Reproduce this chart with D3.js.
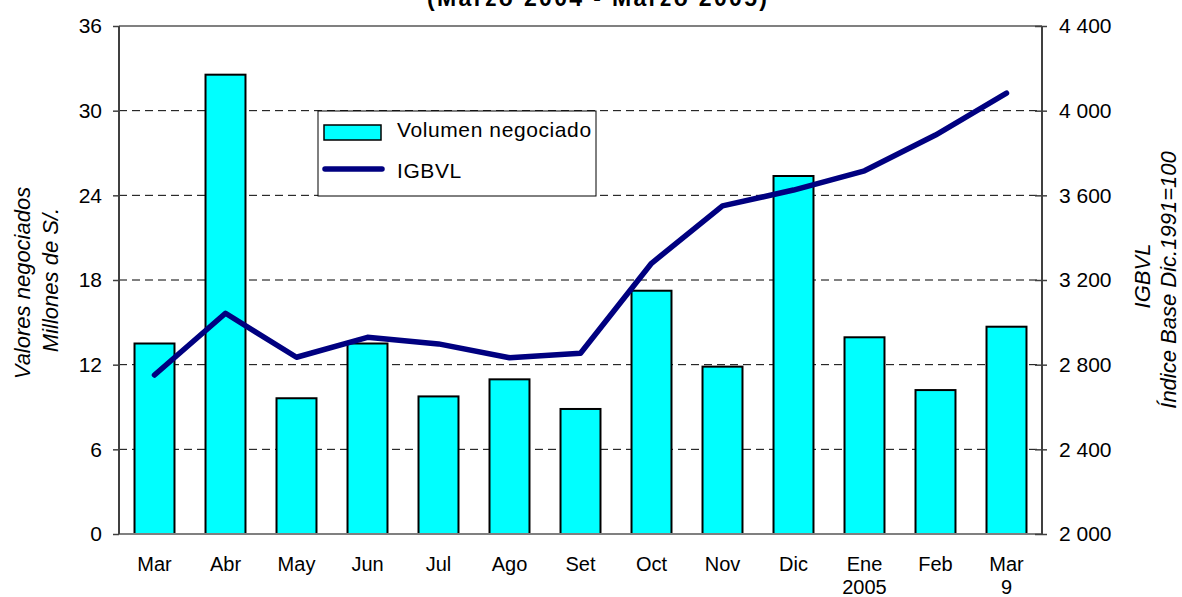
<!DOCTYPE html>
<html><head><meta charset="utf-8">
<script src="https://cdn.jsdelivr.net/npm/d3@7"></script>
<style>
html,body{margin:0;padding:0;background:#fff;}
svg{display:block;font-family:Arial,"Liberation Sans",sans-serif;}
</style></head>
<body>
<svg id="chart" width="1182" height="597"></svg>
<script>
const months = ["Mar","Abr","May","Jun","Jul","Ago","Set","Oct","Nov","Dic","Ene","Feb","Mar"];
const monthSub = ["","","","","","","","","","","2005","","9"];
const volumen = [13.5,32.55,9.62,13.5,9.75,10.96,8.86,17.24,11.86,25.37,13.94,10.2,14.69];
const igbvl = [2751,3043,2835,2929,2898,2833,2854,3279,3550,3625,3716,3885,4083];
const leftTicks = [0,6,12,18,24,30,36];
const rightTicks = [2000,2400,2800,3200,3600,4000,4400];
const titleText = "(Marzo 2004 - Marzo 2005)";
const leftTitle = ["Valores negociados","Millones de S/."];
const rightTitle = ["IGBVL","Índice Base Dic.1991=100"];
const legendLabels = ["Volumen negociado","IGBVL"];

const svg = d3.select("#chart");
const L = 119, R = 1042, T = 26, B = 534;
const FS = 21;
const idx = months.map((d,i)=>i);
const x = d3.scaleBand().domain(idx).range([L,R]).paddingInner(0.437).paddingOuter(0.2185);
const yL = d3.scaleLinear().domain([0,36]).range([B,T]);
const yR = d3.scaleLinear().domain([2000,4400]).range([B,T]);
const fmtR = d3.formatLocale({decimal:",",thousands:" ",grouping:[3],currency:["",""]}).format(",");

// title (partially cut at top, as in the reference)
svg.append("text").attr("x",597).attr("y",6).attr("text-anchor","middle")
  .attr("font-size",23).attr("font-weight","bold").attr("textLength",340).attr("lengthAdjust","spacing")
  .text(titleText);

// gridlines
svg.append("g").selectAll("line").data(leftTicks.filter(d=>d>0 && d<36)).join("line")
  .attr("x1",L).attr("x2",R).attr("y1",d=>yL(d)).attr("y2",d=>yL(d))
  .attr("stroke","#000").attr("stroke-width",1).attr("stroke-dasharray","8,5");
// top border
svg.append("line").attr("x1",L).attr("x2",R).attr("y1",T).attr("y2",T).attr("stroke","#808080").attr("stroke-width",2);

// bars
svg.append("g").selectAll("rect").data(volumen).join("rect")
  .attr("x",(d,i)=>x(i)).attr("width",x.bandwidth())
  .attr("y",d=>yL(d)).attr("height",d=>B-yL(d))
  .attr("fill","#00ffff").attr("stroke","#000").attr("stroke-width",2);

// bottom axis line
svg.append("line").attr("x1",L).attr("x2",R).attr("y1",B).attr("y2",B).attr("stroke","#808080").attr("stroke-width",2);

// left axis
const gl = svg.append("g").attr("transform",`translate(${L},0)`)
  .call(d3.axisLeft(yL).tickValues(leftTicks).tickSize(6).tickPadding(11).tickFormat(d3.format("d")));
gl.select(".domain").attr("stroke","#404040").attr("stroke-width",2).attr("d",`M0,${T}V${B}`);
gl.selectAll(".tick line").attr("stroke","#404040").attr("stroke-width",1.5);
gl.selectAll(".tick text").attr("font-size",FS).attr("fill","#000").attr("font-family",null);

// right axis
const gr = svg.append("g").attr("transform",`translate(${R},0)`)
  .call(d3.axisRight(yR).tickValues(rightTicks).tickSize(5).tickPadding(12).tickFormat(fmtR));
gr.select(".domain").attr("stroke","#404040").attr("stroke-width",2).attr("d",`M0,${T}V${B}`);
gr.selectAll(".tick line").attr("x1",-7).attr("stroke","#404040").attr("stroke-width",1.5);
gr.selectAll(".tick text").attr("font-size",FS).attr("fill","#000").attr("font-family",null);

// category labels
const cg = svg.append("g");
cg.selectAll("text.m").data(months).join("text").attr("class","m")
  .attr("x",(d,i)=>x(i)+x.bandwidth()/2).attr("y",571).attr("text-anchor","middle").attr("font-size",FS-1)
  .text(d=>d);
cg.selectAll("text.s").data(monthSub).join("text").attr("class","s")
  .attr("x",(d,i)=>x(i)+x.bandwidth()/2).attr("y",594).attr("text-anchor","middle").attr("font-size",FS-1)
  .text(d=>d);

// line
svg.append("path").datum(igbvl)
  .attr("d",d3.line().x((d,i)=>x(i)+x.bandwidth()/2).y(d=>yR(d)))
  .attr("fill","none").attr("stroke","#000080").attr("stroke-width",5.5)
  .attr("stroke-linejoin","round").attr("stroke-linecap","round");

// axis titles
const TF = 22;
svg.append("text").attr("transform","translate(30,283) rotate(-90)").attr("text-anchor","middle")
  .attr("font-size",TF).attr("font-style","italic").text(leftTitle[0]);
svg.append("text").attr("transform","translate(58,280) rotate(-90)").attr("text-anchor","middle")
  .attr("font-size",TF).attr("font-style","italic").text(leftTitle[1]);
svg.append("text").attr("transform","translate(1150,276) rotate(-90)").attr("text-anchor","middle")
  .attr("font-size",TF).attr("font-style","italic").text(rightTitle[0]);
svg.append("text").attr("transform","translate(1176,280) rotate(-90)").attr("text-anchor","middle")
  .attr("font-size",TF).attr("font-style","italic").text(rightTitle[1]);

// legend
const lg = svg.append("g");
lg.append("rect").attr("x",318).attr("y",111).attr("width",278).attr("height",85)
  .attr("fill","#fff").attr("stroke","#000").attr("stroke-width",1);
lg.append("rect").attr("x",324).attr("y",125).attr("width",57).attr("height",15)
  .attr("fill","#00ffff").attr("stroke","#000").attr("stroke-width",1.5);
lg.append("line").attr("x1",325).attr("x2",382).attr("y1",169).attr("y2",169)
  .attr("stroke","#000080").attr("stroke-width",5.5).attr("stroke-linecap","round");
lg.append("text").attr("x",397).attr("y",137).attr("font-size",FS).attr("letter-spacing",0.6).text(legendLabels[0]);
lg.append("text").attr("x",397).attr("y",178).attr("font-size",FS).attr("letter-spacing",0.6).text(legendLabels[1]);
</script>
</body></html>
